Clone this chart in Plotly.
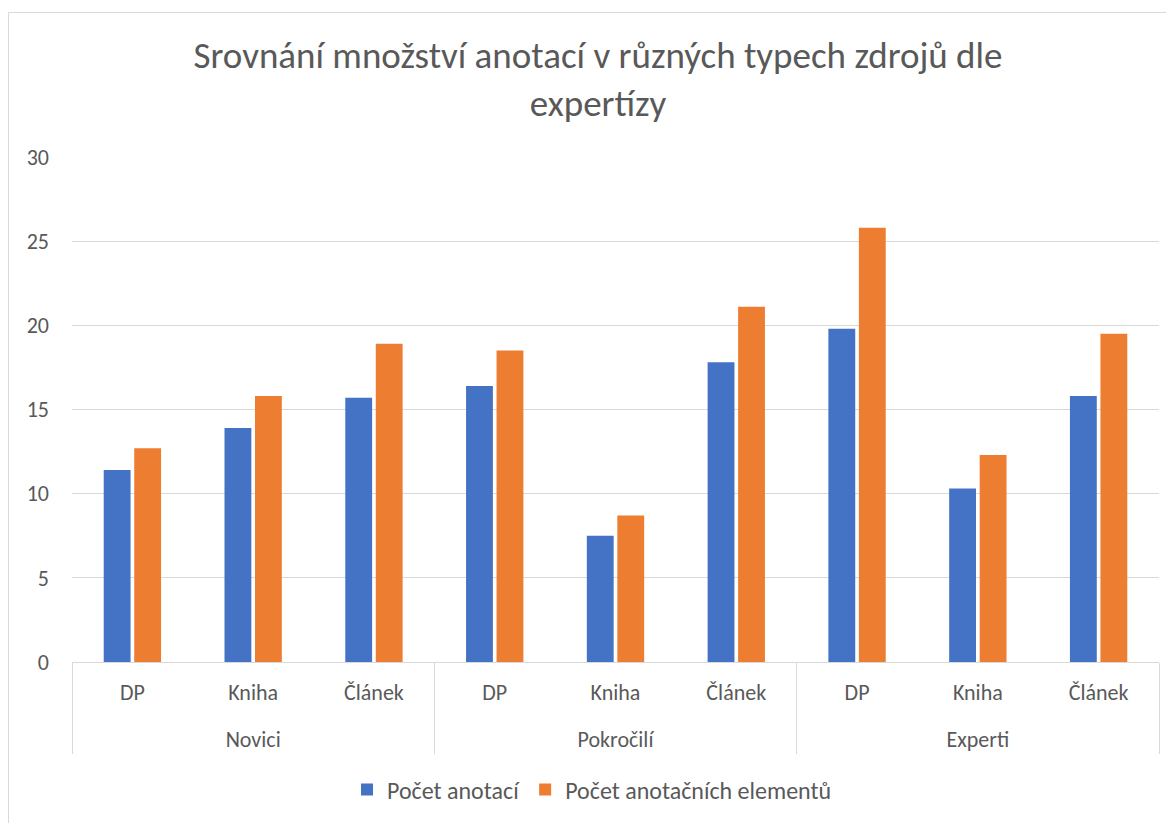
import plotly.graph_objects as go

groups = ["Novici", "Pokročilí", "Experti"]
sources = ["DP", "Kniha", "Článek"]
series_names = ["Počet anotací", "Počet anotačních elementů"]
pocet_anotaci = [11.4, 13.9, 15.7, 16.4, 7.5, 17.8, 19.8, 10.3, 15.8]
pocet_elementu = [12.7, 15.8, 18.9, 18.5, 8.7, 21.1, 25.8, 12.3, 19.5]
colors = ["#4472C4", "#ED7D31"]

x_outer = [g for g in groups for _ in sources]
# trailing empty line pushes the group row lower, as in the original
x_inner = [s + "<br> " for _ in groups for s in sources]

FONT = "Carlito, Calibri, Lato, sans-serif"
TXT = "#595959"
OFF = 8  # page body margin offset

fig = go.Figure()
for name, vals, col in zip(series_names, [pocet_anotaci, pocet_elementu], colors):
    fig.add_trace(go.Bar(x=[x_outer, x_inner], y=vals, name=name,
                         marker=dict(color=col, line=dict(width=0))))

L, T = 72 - OFF, 157 - OFF
R = 1174 - (1159 - OFF)
B = 823 - (662 - OFF)
pw = 1174 - L - R
ph = 823 - T - B

def px2paper_x(px):
    return (px - OFF - L) / pw

def py2paper_y(py):
    return (823 - B - (py - OFF)) / ph

fig.update_layout(
    width=1174, height=823,
    margin=dict(l=L, r=R, t=T, b=B, pad=0),
    paper_bgcolor="white", plot_bgcolor="white",
    font=dict(family=FONT, color=TXT, size=22),
    barmode="group", bargap=0.495, bargroupgap=0.12,
    title=dict(text="Srovnání množství anotací v různých typech zdrojů dle<br>expertízy",
               x=(598 - OFF) / 1174, xanchor="center", xref="container",
               y=1 - (68 - OFF) / 823, yanchor="top", yref="container",
               font=dict(family=FONT, size=37, color=TXT, weight=300)),
    showlegend=True,
    legend=dict(orientation="h", xref="container", yref="container",
                x=(592 - OFF) / 1174, xanchor="center", y=1 - (790 - OFF) / 823, yanchor="middle",
                font=dict(family=FONT, size=24, color=TXT),
                itemwidth=30, traceorder="normal"),
    yaxis=dict(range=[0, 30], dtick=5, showgrid=True, gridcolor="#D9D9D9", gridwidth=1,
               zeroline=False, showline=False, ticks="", ticklabelstandoff=22,
               tickfont=dict(family=FONT, size=22, color=TXT), fixedrange=True),
    xaxis=dict(type="multicategory", showline=True, linecolor="#D9D9D9", linewidth=1,
               showdividers=True, dividercolor="#D9D9D9", dividerwidth=1,
               ticks="", ticklabelstandoff=11,
               tickfont=dict(family=FONT, size=22, color=TXT), fixedrange=True),
)

fig.add_shape(type="rect", xref="paper", yref="paper",
              x0=px2paper_x(8.5), x1=px2paper_x(1200), y0=py2paper_y(850), y1=py2paper_y(12.5),
              line=dict(color="#D9D9D9", width=1), fillcolor="rgba(0,0,0,0)", layer="below")

fig.write_html("out.html")
